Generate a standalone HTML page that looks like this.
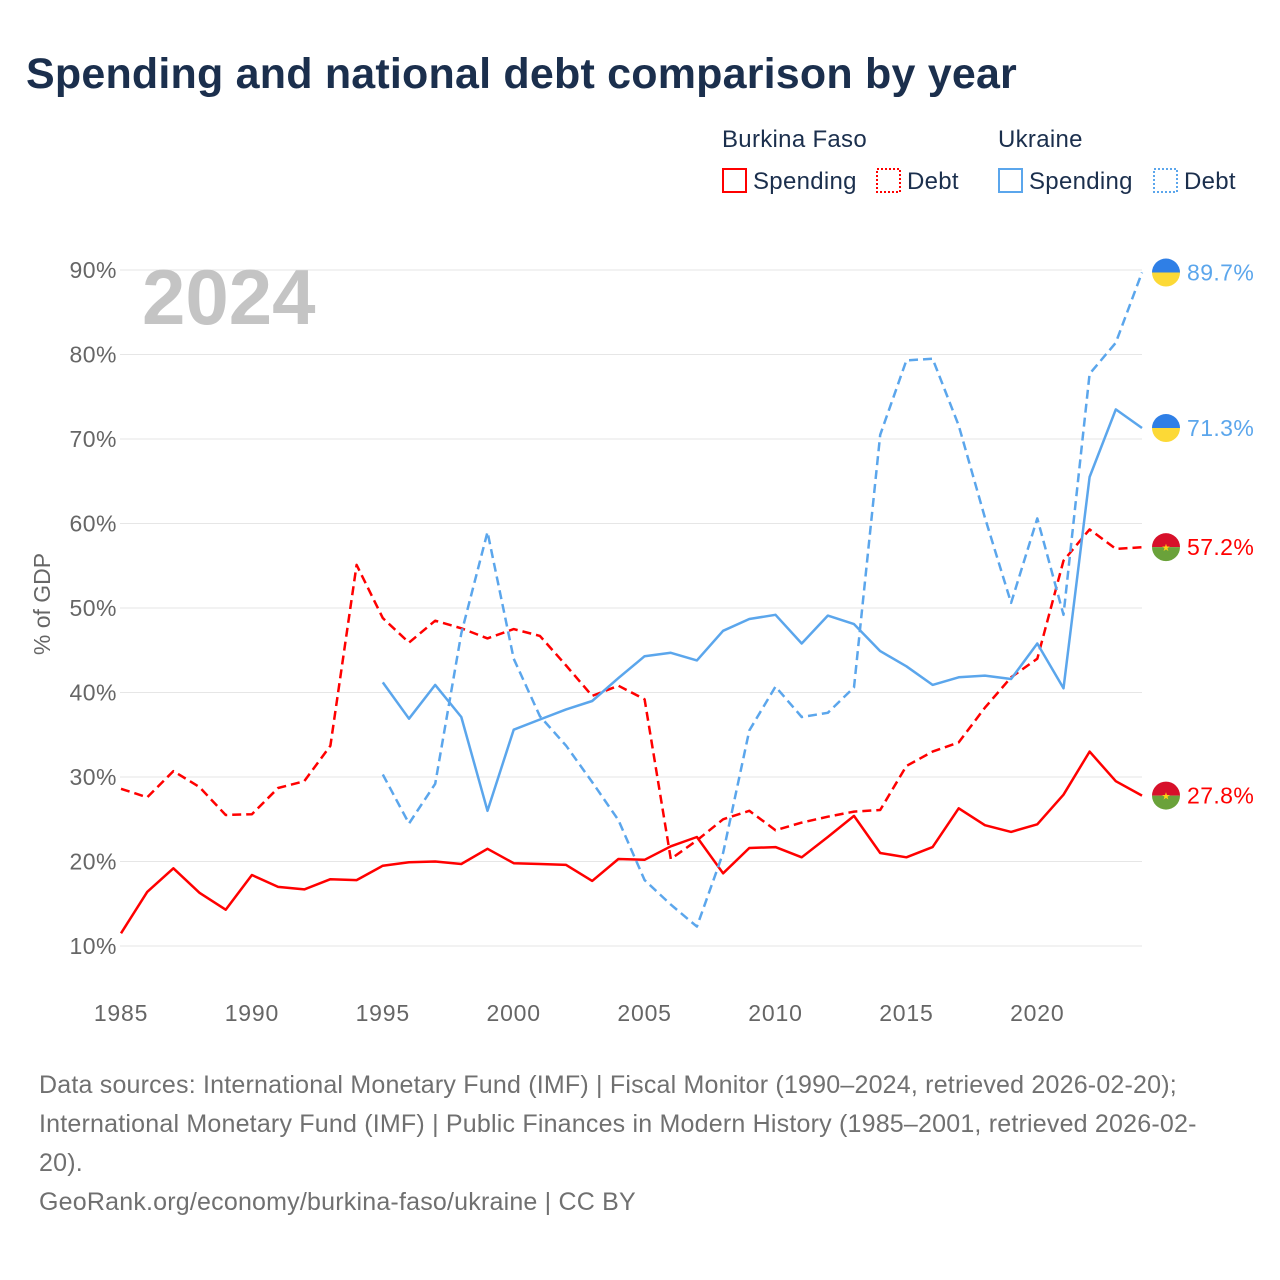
<!DOCTYPE html>
<html><head><meta charset="utf-8"><style>
body{margin:0;background:#fff;font-family:"Liberation Sans",sans-serif;}
#wrap{position:relative;width:1280px;height:1280px;overflow:hidden}
h1{position:absolute;left:26px;top:50px;margin:0;font-size:43px;font-weight:bold;color:#1b2f4d;letter-spacing:0.2px;white-space:nowrap}
.foot{position:absolute;left:39px;top:1066px;width:1230px;font-size:25px;line-height:39px;color:#707070;white-space:nowrap;letter-spacing:0.2px}
</style></head><body>
<div id="wrap">
<h1>Spending and national debt comparison by year</h1>
<svg id="chart" width="1280" height="1280" style="position:absolute;left:0;top:0"></svg>
<div class="foot">Data sources: International Monetary Fund (IMF) | Fiscal Monitor (1990–2024, retrieved 2026-02-20);<br>International Monetary Fund (IMF) | Public Finances in Modern History (1985–2001, retrieved 2026-02-<br>20).<br>GeoRank.org/economy/burkina-faso/ukraine | CC BY</div>
</div>
<script>
const bfYears=[1985,1986,1987,1988,1989,1990,1991,1992,1993,1994,1995,1996,1997,1998,1999,2000,2001,2002,2003,2004,2005,2006,2007,2008,2009,2010,2011,2012,2013,2014,2015,2016,2017,2018,2019,2020,2021,2022,2023,2024];
const bfSpending=[11.5,16.4,19.2,16.3,14.3,18.4,17.0,16.7,17.9,17.8,19.5,19.9,20.0,19.7,21.5,19.8,19.7,19.6,17.7,20.3,20.2,21.8,22.9,18.6,21.6,21.7,20.5,22.9,25.4,21.0,20.5,21.7,26.3,24.3,23.5,24.4,27.9,33.0,29.5,27.8];
const bfDebt=[28.6,27.6,30.7,28.8,25.5,25.6,28.7,29.5,33.7,55.1,48.8,45.9,48.5,47.6,46.4,47.5,46.7,43.2,39.6,40.8,39.2,20.3,22.5,25.0,26.0,23.7,24.6,25.3,25.9,26.1,31.3,33.0,34.1,38.2,41.8,44.0,55.6,59.3,57.0,57.2];
const uaYears=[1995,1996,1997,1998,1999,2000,2001,2002,2003,2004,2005,2006,2007,2008,2009,2010,2011,2012,2013,2014,2015,2016,2017,2018,2019,2020,2021,2022,2023,2024];
const uaSpending=[41.2,36.9,40.9,37.1,26.0,35.6,36.8,38.0,39.0,41.7,44.3,44.7,43.8,47.3,48.7,49.2,45.8,49.1,48.1,44.9,43.1,40.9,41.8,42.0,41.6,45.8,40.5,65.5,73.5,71.3];
const uaDebt=[30.3,24.5,29.2,47.0,59.0,44.0,37.2,33.7,29.4,24.9,17.8,14.9,12.3,21.0,35.5,40.7,37.1,37.6,40.6,70.5,79.3,79.5,71.6,60.7,50.6,60.6,49.2,77.7,81.4,89.7];
const yTicks=[10,20,30,40,50,60,70,80,90];
const xTicks=[1985,1990,1995,2000,2005,2010,2015,2020];

const NS="http://www.w3.org/2000/svg";
const svg=document.getElementById('chart');
const X=y=>121+(y-1985)*(1142-121)/39;
const Y=v=>946-(v-10)*(946-270)/80;
function el(t,a,p){const e=document.createElementNS(NS,t);for(const k in a)e.setAttribute(k,a[k]);(p||svg).appendChild(e);return e;}
function txt(s,a){const e=el('text',a);e.textContent=s;return e;}

for(const t of yTicks){
  const g=el('line',{x1:120,x2:1142,y1:Y(t),y2:Y(t),stroke:'#e6e6e6','stroke-width':1});
  
  
  const l=txt(t+'%',{x:117,y:Y(t)+8,'text-anchor':'end','font-size':23,fill:'#666','letter-spacing':0.5});
  
  
}
for(const t of xTicks){
  const l=txt(t,{x:X(t),y:1021,'text-anchor':'middle','font-size':23,fill:'#666','letter-spacing':0.8});
  
  
}
const yt=txt('% of GDP',{x:0,y:0,transform:'translate(50,604) rotate(-90)','text-anchor':'middle','font-size':23,fill:'#666'});


const wm=txt('2024',{x:142,y:324,'font-size':78,'font-weight':'bold',fill:'#c4c4c4'});



function line(xs,vs,color,dash,name){
  const d=xs.map((x,i)=>(i?'L':'M')+X(x).toFixed(1)+','+Y(vs[i]).toFixed(1)).join('');
  const p=el('path',{d:d,fill:'none',stroke:color,'stroke-width':2.5,'stroke-dasharray':dash||'none','stroke-linejoin':'round'});
  
  
}
line(bfYears,bfSpending,'#ff0000',null,'burkina-spending-line');
line(bfYears,bfDebt,'#ff0000','9,5','burkina-debt-line');
line(uaYears,uaSpending,'#5ba6ec',null,'ukraine-spending-line');
line(uaYears,uaDebt,'#5ba6ec','9,5','ukraine-debt-line');

function flag(v,top,bot,color,label,name,star){
  const cy=Y(v),cx=1166,r=14;
  const g=el('g',{});
  
  
  el('path',{d:`M${cx-r},${cy} A${r},${r} 0 0 1 ${cx+r},${cy} Z`,fill:top},g);
  el('path',{d:`M${cx-r},${cy} A${r},${r} 0 0 0 ${cx+r},${cy} Z`,fill:bot},g);
  if(star) txt('★',{x:cx,y:cy+4,'text-anchor':'middle','font-size':10,fill:'#fcd116'});
  const t=txt(label,{x:1187,y:cy+8,'font-size':23,fill:color,'letter-spacing':0.4});
  
  
}
flag(uaDebt[uaDebt.length-1],'#2f7fe6','#fcd936','#5ba6ec',uaDebt[uaDebt.length-1].toFixed(1)+'%','ukraine-debt-end',false);
flag(uaSpending[uaSpending.length-1],'#2f7fe6','#fcd936','#5ba6ec',uaSpending[uaSpending.length-1].toFixed(1)+'%','ukraine-spending-end',false);
flag(bfDebt[bfDebt.length-1],'#d7102a','#6aa23a','#ff0000',bfDebt[bfDebt.length-1].toFixed(1)+'%','burkina-debt-end',true);
flag(bfSpending[bfSpending.length-1],'#d7102a','#6aa23a','#ff0000',bfSpending[bfSpending.length-1].toFixed(1)+'%','burkina-spending-end',true);

function lt(s,x,y,name){const t=txt(s,{x:x,y:y,'font-size':24,fill:'#1b2f4d','letter-spacing':0.3});}
lt('Burkina Faso',722,147,'legend-group-burkina');
lt('Ukraine',998,147,'legend-group-ukraine');
function le(x,color,dash,label,name){
  const g=el('g',{});
  
  
  el('rect',{x:x+1,y:169,width:23,height:23,fill:'none',stroke:color,'stroke-width':2,'stroke-dasharray':dash||'none'},g);
  const t=txt(label,{x:x+31,y:189,'font-size':24,fill:'#1b2f4d','letter-spacing':0.3});
  g.appendChild(t);
}
le(722,'#ff0000',null,'Spending','legend-burkina-spending');
le(876,'#ff0000','2,2','Debt','legend-burkina-debt');
le(998,'#5ba6ec',null,'Spending','legend-ukraine-spending');
le(1153,'#5ba6ec','2,2','Debt','legend-ukraine-debt');
</script>
</body></html>
